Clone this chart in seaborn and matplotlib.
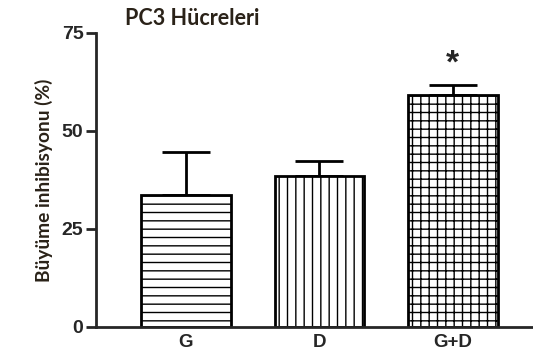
import matplotlib
matplotlib.use("Agg")
import matplotlib.pyplot as plt
import seaborn as sns

groups = ["G", "D", "G+D"]
inhibition = [33.7, 38.6, 59.2]
sem = [10.9, 3.7, 2.6]
hatches = ["--", "||", "++"]

sns.set_style("ticks")
plt.rcParams["font.family"] = ["Liberation Sans", "DejaVu Sans"]
plt.rcParams["hatch.color"] = "#a0a0a0"
plt.rcParams["hatch.linewidth"] = 1.0

fig = plt.figure(figsize=(5.33, 3.53), dpi=100)
ax = fig.add_axes([0.18, 0.0737, 0.82, 0.8329])

sns.barplot(x=groups, y=inhibition, color="white", edgecolor="black",
            linewidth=2, width=0.67, errorbar=None, ax=ax)
for bar, h in zip(ax.patches, hatches):
    bar.set_hatch(h)

xs = [bar.get_x() + bar.get_width() / 2 for bar in ax.patches]
ax.errorbar(xs, inhibition, yerr=[[0] * 3, sem], fmt="none", ecolor="black",
            elinewidth=2, capsize=17, capthick=2, zorder=0)
ax.text(xs[2], inhibition[2] + sem[2] + 1.2, "*", ha="center", va="bottom",
        fontsize=24, fontweight="bold")

ax.set_xlim(-0.674, 2.6)
ax.set_ylim(0, 75)
ax.set_yticks([0, 25, 50, 75])
ax.tick_params(axis="y", length=7, width=2, labelsize=14, pad=2)
ax.tick_params(axis="x", length=0, labelsize=13.5, pad=5)
for lab in ax.get_xticklabels() + ax.get_yticklabels():
    lab.set_fontweight("bold")
for s in ["left", "bottom"]:
    ax.spines[s].set_linewidth(2)
sns.despine(ax=ax)

ax.set_ylabel("Büyüme inhibisyonu (%)", fontsize=13.8, fontweight="bold",
              family=["Lato", "DejaVu Sans"], color="#2a2218", labelpad=6)
fig.text(0.234, 0.948, "PC3 Hücreleri", fontsize=15.5, fontweight="bold",
         family=["Lato", "DejaVu Sans"], color="#2a2218", va="center")

plt.savefig("out.png", dpi=100)
plt.close()
